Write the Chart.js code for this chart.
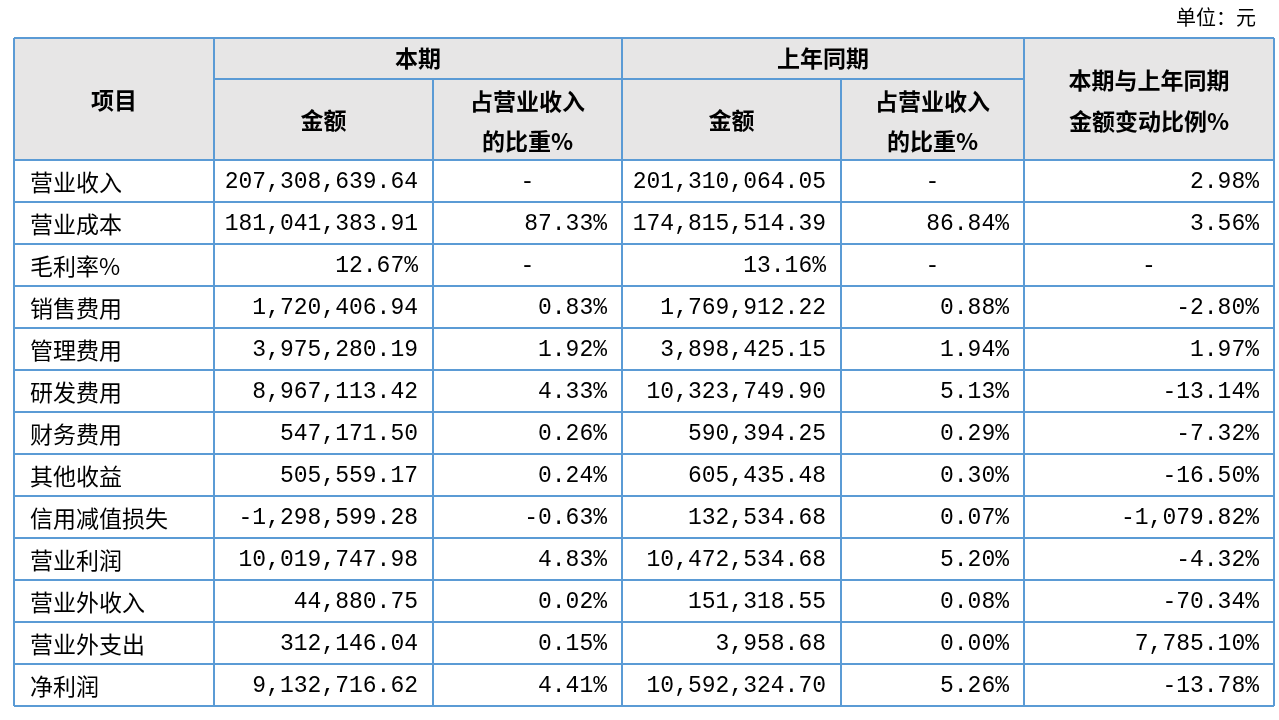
<!DOCTYPE html>
<html><head><meta charset="utf-8">
<script src="https://cdn.jsdelivr.net/npm/chart.js@4/dist/chart.umd.min.js"></script>
<style>html,body{margin:0;background:#fff}#c{display:block}</style></head>
<body><canvas id="c" width="1279" height="720"></canvas>
<script>
const items=["营业收入","营业成本","毛利率%","销售费用","管理费用","研发费用","财务费用","其他收益","信用减值损失","营业利润","营业外收入","营业外支出","净利润"];
const curAmount=["207,308,639.64","181,041,383.91","12.67%","1,720,406.94","3,975,280.19","8,967,113.42","547,171.50","505,559.17","-1,298,599.28","10,019,747.98","44,880.75","312,146.04","9,132,716.62"];
const curRatio=["-","87.33%","-","0.83%","1.92%","4.33%","0.26%","0.24%","-0.63%","4.83%","0.02%","0.15%","4.41%"];
const prevAmount=["201,310,064.05","174,815,514.39","13.16%","1,769,912.22","3,898,425.15","10,323,749.90","590,394.25","605,435.48","132,534.68","10,472,534.68","151,318.55","3,958.68","10,592,324.70"];
const prevRatio=["-","86.84%","-","0.88%","1.94%","5.13%","0.29%","0.30%","0.07%","5.20%","0.08%","0.00%","5.26%"];
const change=["2.98%","3.56%","-","-2.80%","1.97%","-13.14%","-7.32%","-16.50%","-1,079.82%","-4.32%","-70.34%","7,785.10%","-13.78%"];
const unitLabel="单位：元";

const EDGES=[0,200,419,608,827,1010,1260];
const BORDER="#5b9bd5", HEADBG="#e7e6e6";
const CJK='"Noto Sans CJK SC"', NUM='"Liberation Mono","Noto Sans CJK SC"';
const tablePlugin={id:'tbl',afterDraw(chart){
  const c=chart.ctx,x=chart.scales.x,y=chart.scales.y,a=chart.chartArea;
  const X=v=>x.getPixelForValue(v),Y=v=>y.getPixelForValue(v);
  const top=38,mid=79,hb=a.top;
  c.save();
  c.fillStyle=HEADBG;c.fillRect(X(0),top,X(1260)-X(0),hb-top);
  c.fillStyle='#000';c.font='20px '+CJK;c.textAlign='right';c.textBaseline='middle';
  c.fillText(unitLabel,1256,17);
  c.strokeStyle=BORDER;c.lineWidth=2;
  const L=(x1,y1,x2,y2)=>{c.beginPath();c.moveTo(x1,y1);c.lineTo(x2,y2);c.stroke();};
  L(X(0),top,X(1260),top);
  L(X(200),mid,X(1010),mid);
  for(let r=0;r<=items.length;r++)L(X(0),Y(r),X(1260),Y(r));
  EDGES.forEach((e,i)=>{const st=(i===2||i===4)?mid:top;L(X(e),st,X(e),Y(items.length));});
  // headers
  c.font='bold 23px '+CJK;c.textAlign='center';
  const cx=(i,j)=>(X(EDGES[i])+X(EDGES[j]))/2;
  c.fillText("项目",cx(0,1),100);
  c.fillText("本期",cx(1,3),58);c.fillText("上年同期",cx(3,5),58);
  c.fillText("金额",cx(1,2),120);c.fillText("金额",cx(3,4),120);
  [[2,3],[4,5]].forEach(([i,j])=>{c.fillText("占营业收入",cx(i,j),101);c.fillText("的比重%",cx(i,j),141);});
  c.fillText("本期与上年同期",cx(5,6),80);c.fillText("金额变动比例%",cx(5,6),121);
  // body
  const cols=[curAmount,curRatio,prevAmount,prevRatio,change];
  for(let r=0;r<items.length;r++){
    const yc=(Y(r)+Y(r+1))/2+1;
    c.font='23px '+CJK;c.textAlign='left';c.fillText(items[r],X(0)+16,yc);
    cols.forEach((col,k)=>{
      const t=col[r];c.font='23px '+NUM;
      if(t==='-'){c.textAlign='center';c.fillText(t,cx(k+1,k+2),yc);}
      else{c.textAlign='right';c.fillText(t,X(EDGES[k+2])-15,yc);}
    });
  }
  c.restore();
}};
new Chart(document.getElementById('c'),{type:'scatter',
 data:{datasets:[{data:[],pointRadius:0}]},
 options:{responsive:false,animation:false,events:[],
  layout:{padding:{left:14,right:5,top:160,bottom:14}},
  plugins:{legend:{display:false},tooltip:{enabled:false}},
  scales:{x:{type:'linear',min:0,max:1260,display:false},
          y:{type:'linear',min:0,max:items.length,reverse:true,display:false}}},
 plugins:[tablePlugin]});
</script></body></html>
